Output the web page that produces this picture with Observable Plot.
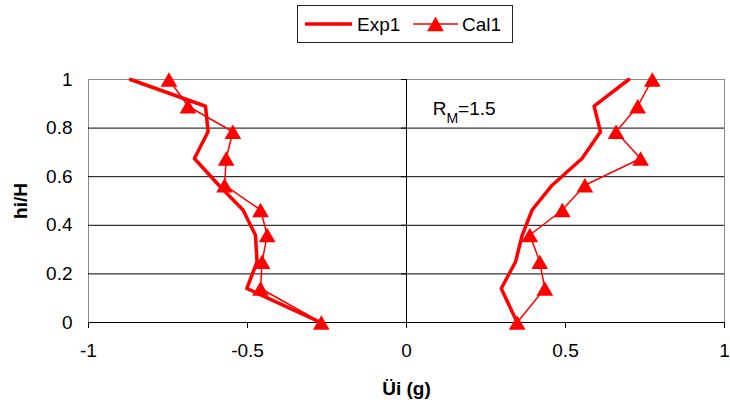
<!DOCTYPE html>
<html><head><meta charset="utf-8">
<script src="https://cdn.jsdelivr.net/npm/d3@7"></script>
<script src="https://cdn.jsdelivr.net/npm/@observablehq/plot@0.6"></script>
<style>
body{margin:0;background:#fff;font-family:"Liberation Sans",Arial,sans-serif;}
#legend{position:relative;height:50px;width:730px;}
#chart svg{display:block;}
</style></head><body>
<div id="legend"></div><div id="chart"></div>
<script>
// relative heights hi/H
const heights = [1, 0.89, 0.785, 0.675, 0.565, 0.463, 0.36, 0.25, 0.14, 0];
// Exp1 (measured) — negative and positive branches
const expLeft  = [-0.868, -0.632, -0.624, -0.667, -0.590, -0.514, -0.475, -0.470, -0.502, -0.270];
const expRight = [0.699, 0.590, 0.610, 0.552, 0.458, 0.395, 0.364, 0.343, 0.298, 0.348];
// Cal1 (calculated)
const calLeft  = [-0.747, -0.687, -0.546, -0.567, -0.572, -0.459, -0.438, -0.454, -0.459, -0.268];
const calRight = [0.773, 0.727, 0.659, 0.736, 0.561, 0.490, 0.388, 0.419, 0.435, 0.348];
const seriesNames = ["Exp1", "Cal1"];
const xTicks = [-1, -0.5, 0, 0.5, 1];
const yTicks = [0, 0.2, 0.4, 0.6, 0.8, 1];
const xTitle = "Üi (g)";
const yTitle = "hi/H";
const annot = {x: 0.084, y: 0.853, main: "R", sub: "M", rest: "=1.5"};

const font = "'Liberation Sans', Arial, sans-serif";
const W = 730, H = 354, mL = 88, mR = 6, mT = 29, mB = 82;
const xDomain = [-1, 1], yDomain = [0, 1];
const fmt = d => String(d);

const rows = (vals, series, branch) => vals.map((v, i) => ({x: v, y: heights[i], series, branch}));
const exp = [...rows(expLeft, seriesNames[0], "L"), ...rows(expRight, seriesNames[0], "R")];
const cal = [...rows(calLeft, seriesNames[1], "L"), ...rows(calRight, seriesNames[1], "R")];

const zeroDx = (W - mL - mR) * (0 - xDomain[0]) / (xDomain[1] - xDomain[0]);

const chart = Plot.plot({
  width: W, height: H, marginLeft: mL, marginRight: mR, marginTop: mT, marginBottom: mB,
  style: {fontFamily: font, fontSize: "19px", color: "#000", background: "#fff"},
  x: {domain: xDomain},
  y: {domain: yDomain},
  marks: [
    Plot.frame({stroke: "#8c8c8c"}),
    Plot.ruleY(yTicks.filter(d => d > 0 && d < 1), {stroke: "#000", strokeWidth: 1}),
    Plot.ruleY([0], {stroke: "#000"}),
    Plot.ruleX([0], {stroke: "#000"}),
    Plot.axisX(xTicks, {tickSize: 6, tickPadding: 15, tickFormat: fmt, label: xTitle, labelArrow: false, labelAnchor: "center", labelOffset: 72}),
    Plot.axisY(yTicks, {tickSize: 0, tickPadding: 16, tickFormat: fmt, label: yTitle, labelArrow: false, labelAnchor: "center", labelOffset: 75}),
    Plot.axisY(yTicks, {tickSize: 5, tickFormat: () => "", label: null, dx: zeroDx}),
    Plot.line(exp, {x: "x", y: "y", z: "branch", stroke: "#ff0000", strokeWidth: 3.5}),
    Plot.line(cal, {x: "x", y: "y", z: "branch", stroke: "#ff0000", strokeWidth: 1.5}),
    Plot.dot(cal, {x: "x", y: "y", symbol: "triangle", r: 6.2, fill: "#ff0000", stroke: null, dy: 2.4})
  ]
});
document.getElementById("chart").appendChild(chart);

// bold axis titles
d3.select(chart).selectAll("g[aria-label='x-axis label'] text, g[aria-label='y-axis label'] text")
  .attr("font-weight", "bold");

// annotation R_M=1.5 via the chart's scales
const sx = chart.scale("x"), sy = chart.scale("y");
const t = d3.select(chart).append("text")
  .attr("x", sx.apply(annot.x)).attr("y", sy.apply(annot.y))
  .attr("text-anchor", "start")
  .attr("font-family", font).attr("font-size", 19).attr("fill", "#000");
t.append("tspan").text(annot.main);
t.append("tspan").attr("font-size", 14).attr("dy", 8).text(annot.sub);
t.append("tspan").attr("dy", -8).text(annot.rest);

// legend
const lg = d3.select("#legend").append("svg")
  .attr("width", 730).attr("height", 50)
  .style("position", "absolute").style("left", 0).style("top", 0);
lg.append("rect").attr("x", 297.5).attr("y", 5.5).attr("width", 215).attr("height", 37)
  .attr("fill", "#fff").attr("stroke", "#222");
const items = [
  {name: seriesNames[0], x0: 305, x1: 352, tx: 357, w: 3.5, marker: false},
  {name: seriesNames[1], x0: 413, x1: 458, tx: 462, w: 1.5, marker: true}
];
const ly = 24;
items.forEach(it => {
  lg.append("line").attr("x1", it.x0).attr("x2", it.x1).attr("y1", ly).attr("y2", ly)
    .attr("stroke", "#ff0000").attr("stroke-width", it.w);
  if (it.marker) {
    lg.append("path").attr("transform", `translate(${(it.x0 + it.x1) / 2},${ly + 2.4})`)
      .attr("d", d3.symbol(d3.symbolTriangle, Math.PI * 6.2 * 6.2)()).attr("fill", "#ff0000");
  }
  lg.append("text").attr("x", it.tx).attr("y", ly + 7).attr("font-family", font)
    .attr("font-size", 19).attr("fill", "#000").text(it.name);
});
</script>
</body></html>
